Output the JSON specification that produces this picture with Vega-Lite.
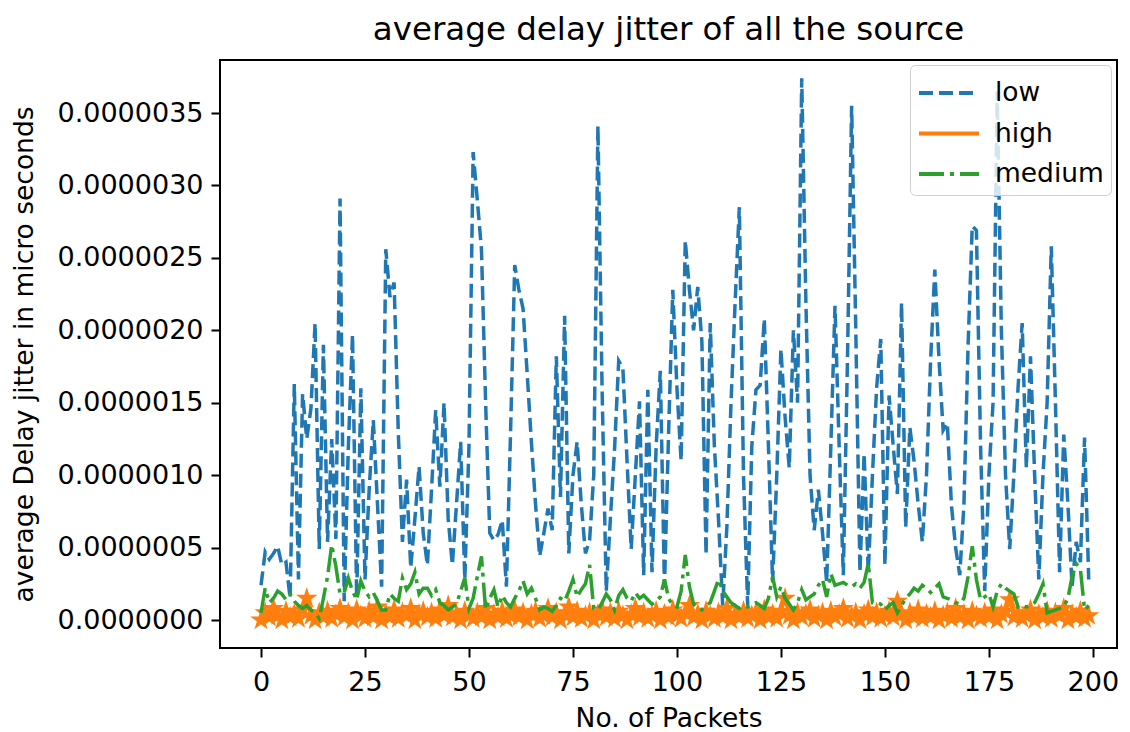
{
  "$schema": "https://vega.github.io/schema/vega-lite/v6.json",
  "width": 897,
  "height": 588,
  "autosize": {"type": "none"},
  "padding": {"left": 220, "top": 60, "right": 13, "bottom": 84},
  "title": {"text": "average delay jitter of all the source", "fontSize": 32.5, "fontWeight": "normal", "color": "black", "font": "DejaVu Sans", "offset": 14, "anchor": "middle"},
  "config": {
    "font": "DejaVu Sans",
    "view": {"stroke": "black", "strokeWidth": 2},
    "axis": {"domain": false, "grid": false, "ticks": true, "tickColor": "black", "tickWidth": 2, "tickSize": 9, "labelColor": "black", "labelFontSize": 27, "labelPadding": 8, "titleFontSize": 26.5, "titleFontWeight": "normal", "titleColor": "black"},
    "legend": {"orient": "none", "legendX": 690, "legendY": 5, "labelFontSize": 26.5, "labelColor": "black", "symbolType": "M-1.6,0H1.6", "symbolSize": 1406, "symbolStrokeWidth": 4, "symbolOffset": 11, "strokeColor": "#d0d0d0", "fillColor": "rgba(255,255,255,0.8)", "cornerRadius": 5, "padding": 7, "rowPadding": 5.5, "labelOffset": 25, "title": null}
  },
  "data": {"values": [
{"p":0,"low":0.24e-6,"high":0.00e-6,"medium":0.05e-6},
{"p":1,"low":0.47e-6,"high":0.05e-6,"medium":0.22e-6},
{"p":2,"low":0.42e-6,"high":0.02e-6,"medium":0.12e-6},
{"p":3,"low":0.46e-6,"high":0.08e-6,"medium":0.15e-6},
{"p":4,"low":0.51e-6,"high":0.03e-6,"medium":0.20e-6},
{"p":5,"low":0.38e-6,"high":0.00e-6,"medium":0.18e-6},
{"p":6,"low":0.40e-6,"high":0.06e-6,"medium":0.14e-6},
{"p":7,"low":0.15e-6,"high":0.02e-6,"medium":0.18e-6},
{"p":8,"low":1.63e-6,"high":0.04e-6,"medium":0.13e-6},
{"p":9,"low":0.28e-6,"high":0.01e-6,"medium":0.10e-6},
{"p":10,"low":1.56e-6,"high":0.07e-6,"medium":0.08e-6},
{"p":11,"low":1.25e-6,"high":0.15e-6,"medium":0.10e-6},
{"p":12,"low":1.46e-6,"high":0.03e-6,"medium":0.07e-6},
{"p":13,"low":2.05e-6,"high":0.00e-6,"medium":0.05e-6},
{"p":14,"low":0.49e-6,"high":0.05e-6,"medium":0.01e-6},
{"p":15,"low":1.90e-6,"high":0.02e-6,"medium":0.15e-6},
{"p":16,"low":0.54e-6,"high":0.06e-6,"medium":0.30e-6},
{"p":17,"low":1.25e-6,"high":0.01e-6,"medium":0.52e-6},
{"p":18,"low":0.56e-6,"high":0.04e-6,"medium":0.37e-6},
{"p":19,"low":2.91e-6,"high":0.08e-6,"medium":0.18e-6},
{"p":20,"low":0.13e-6,"high":0.02e-6,"medium":0.19e-6},
{"p":21,"low":1.20e-6,"high":0.05e-6,"medium":0.29e-6},
{"p":22,"low":1.97e-6,"high":0.00e-6,"medium":0.20e-6},
{"p":23,"low":0.15e-6,"high":0.07e-6,"medium":0.14e-6},
{"p":24,"low":1.60e-6,"high":0.03e-6,"medium":0.27e-6},
{"p":25,"low":0.28e-6,"high":0.01e-6,"medium":0.20e-6},
{"p":26,"low":0.90e-6,"high":0.06e-6,"medium":0.16e-6},
{"p":27,"low":1.38e-6,"high":0.02e-6,"medium":0.19e-6},
{"p":28,"low":0.80e-6,"high":0.09e-6,"medium":0.13e-6},
{"p":29,"low":0.23e-6,"high":0.00e-6,"medium":0.07e-6},
{"p":30,"low":2.56e-6,"high":0.04e-6,"medium":0.07e-6},
{"p":31,"low":2.23e-6,"high":0.02e-6,"medium":0.18e-6},
{"p":32,"low":2.33e-6,"high":0.07e-6,"medium":0.15e-6},
{"p":33,"low":1.30e-6,"high":0.01e-6,"medium":0.13e-6},
{"p":34,"low":0.54e-6,"high":0.05e-6,"medium":0.29e-6},
{"p":35,"low":0.97e-6,"high":0.03e-6,"medium":0.21e-6},
{"p":36,"low":0.36e-6,"high":0.08e-6,"medium":0.25e-6},
{"p":37,"low":0.70e-6,"high":0.00e-6,"medium":0.33e-6},
{"p":38,"low":1.06e-6,"high":0.04e-6,"medium":0.18e-6},
{"p":39,"low":0.60e-6,"high":0.06e-6,"medium":0.22e-6},
{"p":40,"low":0.38e-6,"high":0.02e-6,"medium":0.22e-6},
{"p":41,"low":0.90e-6,"high":0.05e-6,"medium":0.17e-6},
{"p":42,"low":1.45e-6,"high":0.01e-6,"medium":0.21e-6},
{"p":43,"low":0.92e-6,"high":0.07e-6,"medium":0.12e-6},
{"p":44,"low":1.50e-6,"high":0.03e-6,"medium":0.10e-6},
{"p":45,"low":0.70e-6,"high":0.10e-6,"medium":0.07e-6},
{"p":46,"low":0.38e-6,"high":0.02e-6,"medium":0.09e-6},
{"p":47,"low":0.80e-6,"high":0.04e-6,"medium":0.11e-6},
{"p":48,"low":1.23e-6,"high":0.00e-6,"medium":0.20e-6},
{"p":49,"low":0.28e-6,"high":0.06e-6,"medium":0.29e-6},
{"p":50,"low":1.20e-6,"high":0.03e-6,"medium":0.08e-6},
{"p":51,"low":3.23e-6,"high":0.01e-6,"medium":0.15e-6},
{"p":52,"low":2.90e-6,"high":0.05e-6,"medium":0.30e-6},
{"p":53,"low":2.56e-6,"high":0.02e-6,"medium":0.44e-6},
{"p":54,"low":1.50e-6,"high":0.08e-6,"medium":0.07e-6},
{"p":55,"low":0.60e-6,"high":0.00e-6,"medium":0.15e-6},
{"p":56,"low":0.55e-6,"high":0.04e-6,"medium":0.21e-6},
{"p":57,"low":0.59e-6,"high":0.02e-6,"medium":0.09e-6},
{"p":58,"low":0.69e-6,"high":0.06e-6,"medium":0.17e-6},
{"p":59,"low":0.23e-6,"high":0.01e-6,"medium":0.12e-6},
{"p":60,"low":1.30e-6,"high":0.03e-6,"medium":0.09e-6},
{"p":61,"low":2.45e-6,"high":0.07e-6,"medium":0.15e-6},
{"p":62,"low":2.28e-6,"high":0.02e-6,"medium":0.20e-6},
{"p":63,"low":2.15e-6,"high":0.05e-6,"medium":0.27e-6},
{"p":64,"low":1.70e-6,"high":0.00e-6,"medium":0.18e-6},
{"p":65,"low":1.23e-6,"high":0.04e-6,"medium":0.22e-6},
{"p":66,"low":0.80e-6,"high":0.06e-6,"medium":0.15e-6},
{"p":67,"low":0.44e-6,"high":0.01e-6,"medium":0.07e-6},
{"p":68,"low":0.60e-6,"high":0.03e-6,"medium":0.09e-6},
{"p":69,"low":0.77e-6,"high":0.08e-6,"medium":0.08e-6},
{"p":70,"low":0.62e-6,"high":0.02e-6,"medium":0.06e-6},
{"p":71,"low":1.82e-6,"high":0.05e-6,"medium":0.10e-6},
{"p":72,"low":0.85e-6,"high":0.00e-6,"medium":0.15e-6},
{"p":73,"low":2.10e-6,"high":0.04e-6,"medium":0.13e-6},
{"p":74,"low":0.46e-6,"high":0.09e-6,"medium":0.20e-6},
{"p":75,"low":1.00e-6,"high":0.02e-6,"medium":0.28e-6},
{"p":76,"low":1.23e-6,"high":0.06e-6,"medium":0.16e-6},
{"p":77,"low":0.80e-6,"high":0.01e-6,"medium":0.21e-6},
{"p":78,"low":0.46e-6,"high":0.03e-6,"medium":0.25e-6},
{"p":79,"low":0.55e-6,"high":0.05e-6,"medium":0.38e-6},
{"p":80,"low":1.00e-6,"high":0.00e-6,"medium":0.08e-6},
{"p":81,"low":3.41e-6,"high":0.04e-6,"medium":0.07e-6},
{"p":82,"low":1.60e-6,"high":0.07e-6,"medium":0.12e-6},
{"p":83,"low":0.20e-6,"high":0.02e-6,"medium":0.18e-6},
{"p":84,"low":0.70e-6,"high":0.05e-6,"medium":0.14e-6},
{"p":85,"low":1.18e-6,"high":0.01e-6,"medium":0.07e-6},
{"p":86,"low":1.79e-6,"high":0.06e-6,"medium":0.17e-6},
{"p":87,"low":1.74e-6,"high":0.03e-6,"medium":0.21e-6},
{"p":88,"low":1.10e-6,"high":0.00e-6,"medium":0.15e-6},
{"p":89,"low":0.49e-6,"high":0.04e-6,"medium":0.13e-6},
{"p":90,"low":1.00e-6,"high":0.08e-6,"medium":0.19e-6},
{"p":91,"low":1.51e-6,"high":0.02e-6,"medium":0.15e-6},
{"p":92,"low":0.31e-6,"high":0.05e-6,"medium":0.17e-6},
{"p":93,"low":1.59e-6,"high":0.01e-6,"medium":0.14e-6},
{"p":94,"low":0.33e-6,"high":0.03e-6,"medium":0.11e-6},
{"p":95,"low":1.20e-6,"high":0.06e-6,"medium":0.13e-6},
{"p":96,"low":1.72e-6,"high":0.00e-6,"medium":0.16e-6},
{"p":97,"low":0.23e-6,"high":0.04e-6,"medium":0.28e-6},
{"p":98,"low":1.30e-6,"high":0.02e-6,"medium":0.15e-6},
{"p":99,"low":2.28e-6,"high":0.07e-6,"medium":0.10e-6},
{"p":100,"low":1.60e-6,"high":0.03e-6,"medium":0.09e-6},
{"p":101,"low":1.10e-6,"high":0.01e-6,"medium":0.20e-6},
{"p":102,"low":2.62e-6,"high":0.05e-6,"medium":0.45e-6},
{"p":103,"low":2.28e-6,"high":0.10e-6,"medium":0.23e-6},
{"p":104,"low":2.00e-6,"high":0.02e-6,"medium":0.11e-6},
{"p":105,"low":2.30e-6,"high":0.04e-6,"medium":0.09e-6},
{"p":106,"low":1.92e-6,"high":0.00e-6,"medium":0.07e-6},
{"p":107,"low":0.45e-6,"high":0.06e-6,"medium":0.10e-6},
{"p":108,"low":2.05e-6,"high":0.03e-6,"medium":0.12e-6},
{"p":109,"low":1.20e-6,"high":0.01e-6,"medium":0.20e-6},
{"p":110,"low":0.69e-6,"high":0.05e-6,"medium":0.28e-6},
{"p":111,"low":0.10e-6,"high":0.02e-6,"medium":0.20e-6},
{"p":112,"low":0.64e-6,"high":0.08e-6,"medium":0.16e-6},
{"p":113,"low":1.50e-6,"high":0.00e-6,"medium":0.12e-6},
{"p":114,"low":2.20e-6,"high":0.04e-6,"medium":0.10e-6},
{"p":115,"low":2.85e-6,"high":0.02e-6,"medium":0.08e-6},
{"p":116,"low":1.00e-6,"high":0.06e-6,"medium":0.10e-6},
{"p":117,"low":0.10e-6,"high":0.01e-6,"medium":0.09e-6},
{"p":118,"low":1.20e-6,"high":0.03e-6,"medium":0.11e-6},
{"p":119,"low":1.59e-6,"high":0.05e-6,"medium":0.12e-6},
{"p":120,"low":1.62e-6,"high":0.00e-6,"medium":0.10e-6},
{"p":121,"low":2.08e-6,"high":0.07e-6,"medium":0.08e-6},
{"p":122,"low":1.20e-6,"high":0.02e-6,"medium":0.15e-6},
{"p":123,"low":0.26e-6,"high":0.04e-6,"medium":0.30e-6},
{"p":124,"low":1.00e-6,"high":0.01e-6,"medium":0.16e-6},
{"p":125,"low":1.87e-6,"high":0.06e-6,"medium":0.23e-6},
{"p":126,"low":1.40e-6,"high":0.15e-6,"medium":0.15e-6},
{"p":127,"low":1.05e-6,"high":0.03e-6,"medium":0.11e-6},
{"p":128,"low":2.00e-6,"high":0.00e-6,"medium":0.07e-6},
{"p":129,"low":1.50e-6,"high":0.05e-6,"medium":0.12e-6},
{"p":130,"low":3.74e-6,"high":0.02e-6,"medium":0.21e-6},
{"p":131,"low":2.20e-6,"high":0.04e-6,"medium":0.14e-6},
{"p":132,"low":1.00e-6,"high":0.07e-6,"medium":0.16e-6},
{"p":133,"low":0.62e-6,"high":0.01e-6,"medium":0.18e-6},
{"p":134,"low":0.90e-6,"high":0.03e-6,"medium":0.24e-6},
{"p":135,"low":0.60e-6,"high":0.05e-6,"medium":0.28e-6},
{"p":136,"low":0.26e-6,"high":0.00e-6,"medium":0.16e-6},
{"p":137,"low":1.20e-6,"high":0.06e-6,"medium":0.32e-6},
{"p":138,"low":2.17e-6,"high":0.02e-6,"medium":0.24e-6},
{"p":139,"low":1.20e-6,"high":0.04e-6,"medium":0.25e-6},
{"p":140,"low":0.31e-6,"high":0.08e-6,"medium":0.26e-6},
{"p":141,"low":1.80e-6,"high":0.01e-6,"medium":0.24e-6},
{"p":142,"low":3.55e-6,"high":0.03e-6,"medium":0.23e-6},
{"p":143,"low":2.00e-6,"high":0.05e-6,"medium":0.25e-6},
{"p":144,"low":0.33e-6,"high":0.00e-6,"medium":0.22e-6},
{"p":145,"low":1.15e-6,"high":0.04e-6,"medium":0.26e-6},
{"p":146,"low":0.33e-6,"high":0.07e-6,"medium":0.39e-6},
{"p":147,"low":1.00e-6,"high":0.02e-6,"medium":0.12e-6},
{"p":148,"low":1.60e-6,"high":0.05e-6,"medium":0.12e-6},
{"p":149,"low":1.94e-6,"high":0.01e-6,"medium":0.11e-6},
{"p":150,"low":0.38e-6,"high":0.03e-6,"medium":0.07e-6},
{"p":151,"low":1.55e-6,"high":0.06e-6,"medium":0.10e-6},
{"p":152,"low":1.20e-6,"high":0.02e-6,"medium":0.12e-6},
{"p":153,"low":0.87e-6,"high":0.13e-6,"medium":0.05e-6},
{"p":154,"low":2.19e-6,"high":0.04e-6,"medium":0.10e-6},
{"p":155,"low":0.64e-6,"high":0.00e-6,"medium":0.15e-6},
{"p":156,"low":1.33e-6,"high":0.05e-6,"medium":0.18e-6},
{"p":157,"low":1.10e-6,"high":0.02e-6,"medium":0.22e-6},
{"p":158,"low":0.80e-6,"high":0.07e-6,"medium":0.20e-6},
{"p":159,"low":0.54e-6,"high":0.01e-6,"medium":0.24e-6},
{"p":160,"low":1.00e-6,"high":0.04e-6,"medium":0.22e-6},
{"p":161,"low":1.80e-6,"high":0.02e-6,"medium":0.19e-6},
{"p":162,"low":2.42e-6,"high":0.06e-6,"medium":0.22e-6},
{"p":163,"low":1.80e-6,"high":0.00e-6,"medium":0.25e-6},
{"p":164,"low":1.31e-6,"high":0.03e-6,"medium":0.16e-6},
{"p":165,"low":1.36e-6,"high":0.05e-6,"medium":0.15e-6},
{"p":166,"low":0.79e-6,"high":0.01e-6,"medium":0.14e-6},
{"p":167,"low":0.50e-6,"high":0.08e-6,"medium":0.12e-6},
{"p":168,"low":0.31e-6,"high":0.02e-6,"medium":0.11e-6},
{"p":169,"low":0.80e-6,"high":0.04e-6,"medium":0.15e-6},
{"p":170,"low":1.90e-6,"high":0.00e-6,"medium":0.30e-6},
{"p":171,"low":2.72e-6,"high":0.06e-6,"medium":0.51e-6},
{"p":172,"low":2.69e-6,"high":0.03e-6,"medium":0.28e-6},
{"p":173,"low":1.20e-6,"high":0.01e-6,"medium":0.14e-6},
{"p":174,"low":0.20e-6,"high":0.05e-6,"medium":0.16e-6},
{"p":175,"low":1.00e-6,"high":0.02e-6,"medium":0.18e-6},
{"p":176,"low":1.50e-6,"high":0.07e-6,"medium":0.09e-6},
{"p":177,"low":3.65e-6,"high":0.00e-6,"medium":0.20e-6},
{"p":178,"low":2.00e-6,"high":0.04e-6,"medium":0.25e-6},
{"p":179,"low":1.00e-6,"high":0.06e-6,"medium":0.22e-6},
{"p":180,"low":0.49e-6,"high":0.14e-6,"medium":0.20e-6},
{"p":181,"low":1.00e-6,"high":0.02e-6,"medium":0.18e-6},
{"p":182,"low":1.60e-6,"high":0.05e-6,"medium":0.09e-6},
{"p":183,"low":2.05e-6,"high":0.01e-6,"medium":0.10e-6},
{"p":184,"low":1.05e-6,"high":0.03e-6,"medium":0.09e-6},
{"p":185,"low":1.82e-6,"high":0.07e-6,"medium":0.10e-6},
{"p":186,"low":1.00e-6,"high":0.00e-6,"medium":0.12e-6},
{"p":187,"low":0.28e-6,"high":0.04e-6,"medium":0.18e-6},
{"p":188,"low":1.00e-6,"high":0.02e-6,"medium":0.25e-6},
{"p":189,"low":1.50e-6,"high":0.06e-6,"medium":0.05e-6},
{"p":190,"low":2.58e-6,"high":0.01e-6,"medium":0.06e-6},
{"p":191,"low":1.50e-6,"high":0.05e-6,"medium":0.07e-6},
{"p":192,"low":0.33e-6,"high":0.03e-6,"medium":0.08e-6},
{"p":193,"low":1.28e-6,"high":0.08e-6,"medium":0.09e-6},
{"p":194,"low":0.80e-6,"high":0.00e-6,"medium":0.15e-6},
{"p":195,"low":0.23e-6,"high":0.04e-6,"medium":0.30e-6},
{"p":196,"low":0.54e-6,"high":0.02e-6,"medium":0.39e-6},
{"p":197,"low":0.40e-6,"high":0.06e-6,"medium":0.35e-6},
{"p":198,"low":1.26e-6,"high":0.01e-6,"medium":0.07e-6},
{"p":199,"low":0.28e-6,"high":0.03e-6,"medium":0.10e-6}
  ]},
  "transform": [{"fold": ["low", "high", "medium"], "as": ["series", "value"]}],
  "encoding": {
    "x": {"field": "p", "type": "quantitative", "scale": {"domain": [-9.86, 205.8], "nice": false, "zero": false},
      "axis": {"values": [0, 25, 50, 75, 100, 125, 150, 175, 200], "title": "No. of Packets", "labelPadding": 12, "titlePadding": 10}},
    "y": {"field": "value", "type": "quantitative", "scale": {"domain": [-0.193e-6, 3.866e-6], "nice": false, "zero": false},
      "axis": {"values": [0, 0.5e-6, 1e-6, 1.5e-6, 2e-6, 2.5e-6, 3e-6, 3.5e-6], "format": ".7f", "title": "average Delay jitter in micro seconds", "titlePadding": 18}}
  },
  "layer": [
    {
      "transform": [{"filter": "datum.series !== 'medium'"}],
      "mark": {"type": "line", "strokeWidth": 3.5},
      "encoding": {
        "color": {"field": "series", "type": "nominal", "scale": {"domain": ["low", "high", "medium"], "range": ["#1f77b4", "#ff7f0e", "#2ca02c"]}, "sort": ["low", "high", "medium"]},
        "strokeDash": {"field": "series", "type": "nominal", "scale": {"domain": ["low", "high", "medium"], "range": [[14, 6], [1, 0], [25, 6, 4, 6]]}, "sort": ["low", "high", "medium"]},
        "order": {"field": "p"}
      }
    },
    {
      "transform": [{"filter": "datum.series === 'high'"}],
      "mark": {"type": "point", "shape": "M0,-1L0.2245,-0.309L0.951,-0.309L0.363,0.118L0.588,0.809L0,0.382L-0.588,0.809L-0.363,0.118L-0.951,-0.309L-0.2245,-0.309Z", "size": 210, "filled": true, "color": "#ff7f0e", "stroke": "#ff7f0e", "strokeWidth": 2.5, "opacity": 1}
    },
    {
      "transform": [{"filter": "datum.series === 'medium'"}],
      "mark": {"type": "line", "strokeWidth": 3.5},
      "encoding": {
        "color": {"field": "series", "type": "nominal", "scale": {"domain": ["low", "high", "medium"], "range": ["#1f77b4", "#ff7f0e", "#2ca02c"]}, "sort": ["low", "high", "medium"]},
        "strokeDash": {"field": "series", "type": "nominal", "scale": {"domain": ["low", "high", "medium"], "range": [[14, 6], [1, 0], [25, 6, 4, 6]]}, "sort": ["low", "high", "medium"]},
        "order": {"field": "p"}
      }
    }
  ]
}
